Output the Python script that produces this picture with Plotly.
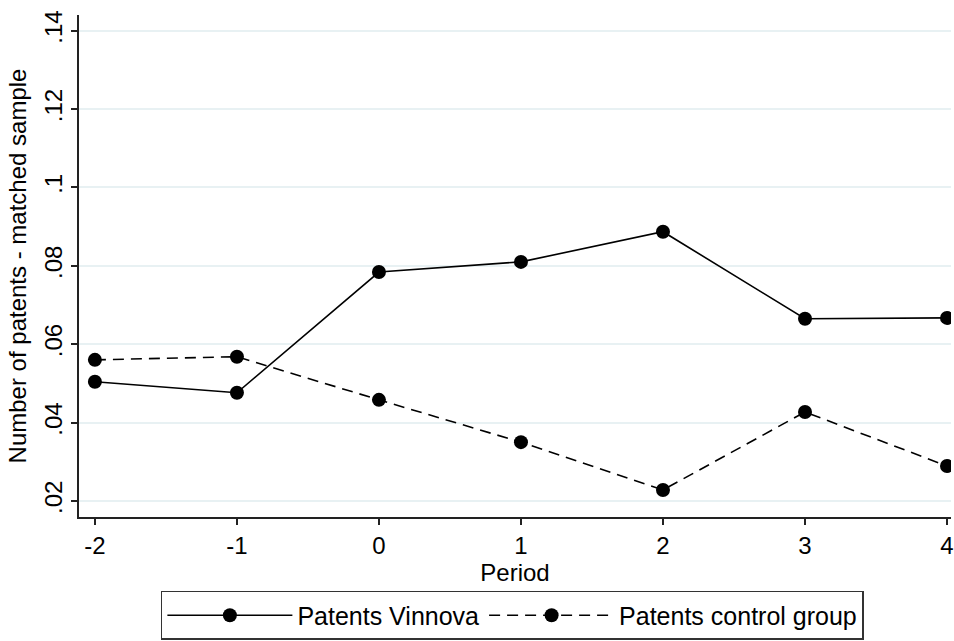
import plotly.graph_objects as go

periods = [-2, -1, 0, 1, 2, 3, 4]
vinnova = [0.0504, 0.0476, 0.0784, 0.0810, 0.0887, 0.0665, 0.0667]
control = [0.0560, 0.0568, 0.0458, 0.0350, 0.0228, 0.0427, 0.0289]
y_ticks = [0.02, 0.04, 0.06, 0.08, 0.10, 0.12, 0.14]
y_tick_labels = [".02", ".04", ".06", ".08", ".1", ".12", ".14"]

FONT = "Liberation Sans, Arial, sans-serif"
FS = 24

fig = go.Figure()
fig.add_trace(go.Scatter(
    x=periods, y=vinnova, mode="lines+markers", name="Patents Vinnova",
    line=dict(color="black", width=1.6),
    marker=dict(color="black", size=14, symbol="circle"),
))
fig.add_trace(go.Scatter(
    x=periods, y=control, mode="lines+markers", name="Patents control group",
    line=dict(color="black", width=1.6, dash="11px,7px"),
    marker=dict(color="black", size=14, symbol="circle"),
))

fig.update_layout(
    width=954, height=641,
    margin=dict(l=79, r=0, t=15, b=124),
    paper_bgcolor="white", plot_bgcolor="white",
    font=dict(family=FONT, size=FS, color="black"),
    showlegend=True,
    legend=dict(
        orientation="h", x=0.497, xanchor="center", y=-0.245, yanchor="bottom",
        bordercolor="#333333", borderwidth=1.5, bgcolor="white",
        font=dict(size=25), itemwidth=125, tracegroupgap=0,
    ),
    xaxis=dict(
        range=[-2.112, 4.028], tickvals=periods, ticktext=[str(p) for p in periods],
        showgrid=False, zeroline=False, showline=True, linecolor="#222222", linewidth=1.5,
        ticks="outside", ticklen=6, tickcolor="#222222", tickwidth=1.5,
        title=dict(text="Period", font=dict(size=FS), standoff=0),
        tickfont=dict(size=FS), ticklabeloverflow="allow",
    ),
    yaxis=dict(
        range=[0.0159, 0.144], tickvals=y_ticks, ticktext=y_tick_labels,
        tickangle=-90,
        showgrid=True, gridcolor="#e8f1f3", gridwidth=1.5,
        zeroline=False, showline=True, linecolor="#222222", linewidth=1.5,
        ticks="outside", ticklen=6, tickcolor="#222222", tickwidth=1.5,
        title=dict(text="Number of patents - matched sample", font=dict(size=FS), standoff=6),
        tickfont=dict(size=FS),
    ),
)

fig.write_html(
    "out.html",
    config={"displayModeBar": False},
    post_script="document.body.style.margin='0px';document.body.style.overflow='hidden';",
)
